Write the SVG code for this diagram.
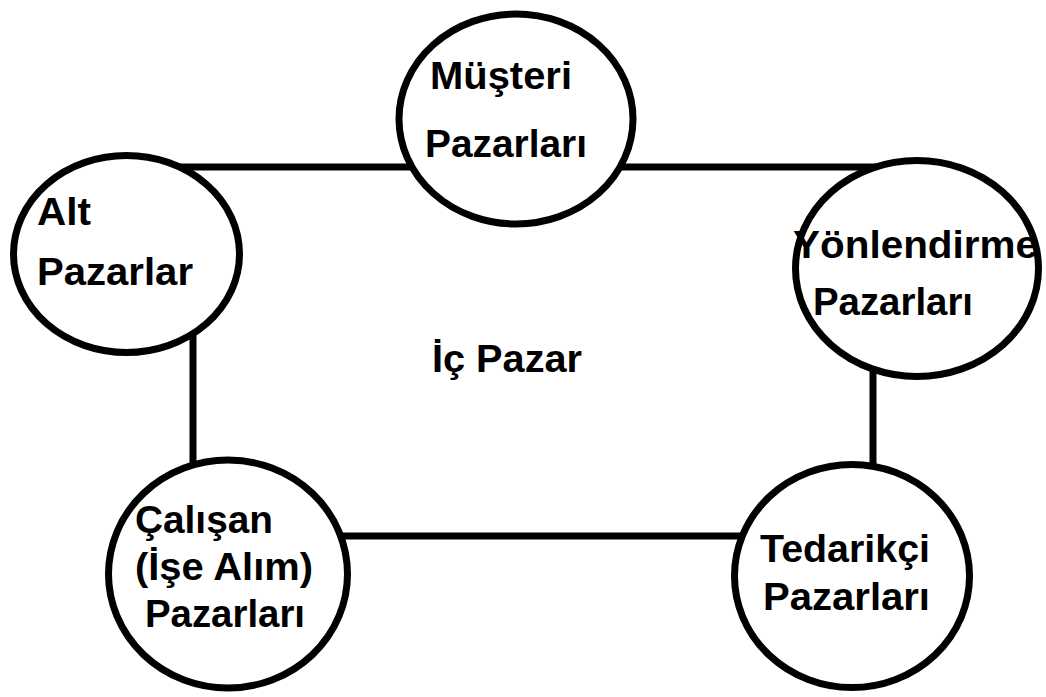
<svg xmlns="http://www.w3.org/2000/svg" width="1046" height="697" viewBox="0 0 1046 697">
<style>
.bg{fill:#fff}
.conn{stroke:#000;stroke-width:7;fill:none}
.node ellipse{fill:#fff;stroke:#000;stroke-width:7}
text{font-family:"Liberation Sans",Arial,sans-serif;font-weight:bold;font-size:39px;fill:#000}
</style>
<rect class="bg" x="0" y="0" width="1046" height="697"/>
<g id="connectors">
<line class="conn" x1="126" y1="167" x2="515" y2="167"/>
<line class="conn" x1="515" y1="167" x2="917" y2="167"/>
<line class="conn" x1="193" y1="254" x2="193" y2="574"/>
<line class="conn" x1="228" y1="536" x2="852" y2="536"/>
<line class="conn" x1="873" y1="268" x2="873" y2="576"/>
</g>
<g id="musteri" class="node">
<ellipse cx="516" cy="119" rx="117" ry="105"/>
<text x="430" y="89" textLength="142" lengthAdjust="spacingAndGlyphs">Müşteri</text>
<text x="425" y="157" textLength="162" lengthAdjust="spacingAndGlyphs">Pazarları</text>
</g>
<g id="alt" class="node">
<ellipse cx="126.5" cy="254" rx="113" ry="98.5"/>
<text x="37" y="225" textLength="54" lengthAdjust="spacingAndGlyphs">Alt</text>
<text x="37" y="285" textLength="156" lengthAdjust="spacingAndGlyphs">Pazarlar</text>
</g>
<g id="yonlendirme" class="node">
<ellipse cx="917" cy="268.5" rx="121.5" ry="108"/>
<text x="793" y="258" textLength="245" lengthAdjust="spacingAndGlyphs">Yönlendirme</text>
<text x="813" y="315" textLength="160" lengthAdjust="spacingAndGlyphs">Pazarları</text>
</g>
<g id="calisan" class="node">
<ellipse cx="228" cy="574" rx="119.5" ry="114"/>
<text x="135" y="533" textLength="138" lengthAdjust="spacingAndGlyphs">Çalışan</text>
<text x="135" y="580" textLength="178" lengthAdjust="spacingAndGlyphs">(İşe Alım)</text>
<text x="145" y="627" textLength="160" lengthAdjust="spacingAndGlyphs">Pazarları</text>
</g>
<g id="tedarikci" class="node">
<ellipse cx="852" cy="576" rx="117.5" ry="111.5"/>
<text x="760" y="562" textLength="170" lengthAdjust="spacingAndGlyphs">Tedarikçi</text>
<text x="763" y="610" textLength="167" lengthAdjust="spacingAndGlyphs">Pazarları</text>
</g>
<g id="ic-pazar">
<text x="432" y="372" textLength="150" lengthAdjust="spacingAndGlyphs">İç Pazar</text>
</g>
</svg>
